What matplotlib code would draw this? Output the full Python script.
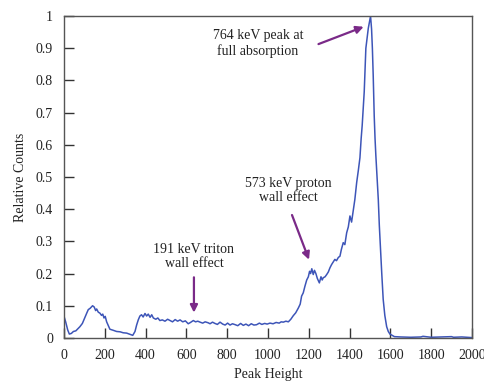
import matplotlib.pyplot as plt

plt.rcParams['font.family'] = ['Liberation Serif', 'DejaVu Serif']

# spectrum (peak height, relative counts)
peak_height = [0, 8, 18, 26, 36, 46, 58, 70, 78, 90,
               103, 112, 119, 128, 140, 148, 155, 160, 168, 176,
               184, 190, 196, 202, 209, 216, 225, 240, 258, 275,
               290, 307, 320, 337, 348, 356, 364, 372, 380, 388,
               397, 405, 413, 422, 430, 438, 450, 460, 470, 482,
               495, 508, 520, 532, 545, 557, 569, 582, 595, 609,
               620, 634, 645, 656, 667, 680, 692, 707, 716, 728,
               740, 752, 765, 778, 790, 802, 814, 826, 840, 852,
               866, 879, 892, 905, 918, 931, 944, 958, 970, 984,
               996, 1010, 1025, 1040, 1055, 1065, 1075, 1088, 1100, 1112,
               1124, 1136, 1149, 1158, 1165, 1173, 1181, 1190, 1198, 1204,
               1209, 1215, 1222, 1228, 1235, 1242, 1252, 1260, 1266, 1271,
               1280, 1288, 1296, 1304, 1312, 1320, 1328, 1336, 1345, 1353,
               1360, 1369, 1377, 1386, 1394, 1402, 1410, 1418, 1426, 1435,
               1443, 1451, 1457, 1462, 1467, 1472, 1476, 1480, 1486, 1492,
               1497, 1503, 1508, 1512, 1516, 1521, 1525, 1529, 1535, 1541,
               1546, 1552, 1558, 1565, 1573, 1582, 1590, 1598, 1606, 1620,
               1650, 1700, 1750, 1760, 1800, 1850, 1900, 1910, 1950, 2000]
rel_counts = [0.067, 0.05, 0.025, 0.012, 0.014, 0.02, 0.022, 0.03, 0.035, 0.045,
              0.065, 0.078, 0.088, 0.092, 0.1, 0.096, 0.085, 0.09, 0.08, 0.077,
              0.07, 0.074, 0.062, 0.067, 0.05, 0.04, 0.027, 0.024, 0.02, 0.019,
              0.016, 0.015, 0.012, 0.008, 0.02, 0.04, 0.056, 0.068, 0.072, 0.065,
              0.076, 0.068, 0.074, 0.064, 0.072, 0.062, 0.058, 0.062, 0.054, 0.056,
              0.052, 0.058, 0.054, 0.05, 0.057, 0.052, 0.056, 0.05, 0.053, 0.044,
              0.048, 0.054, 0.05, 0.052, 0.049, 0.046, 0.05, 0.047, 0.044, 0.049,
              0.045, 0.042, 0.049, 0.043, 0.04, 0.046, 0.04, 0.044, 0.041, 0.038,
              0.045, 0.039, 0.043, 0.038, 0.044, 0.04, 0.041, 0.046, 0.042, 0.045,
              0.043, 0.046, 0.044, 0.048, 0.046, 0.05, 0.049, 0.052, 0.05, 0.058,
              0.069, 0.078, 0.093, 0.105, 0.13, 0.14, 0.16, 0.18, 0.19, 0.207,
              0.2, 0.215, 0.197, 0.21, 0.2, 0.185, 0.171, 0.19, 0.18, 0.187,
              0.19, 0.197, 0.205, 0.218, 0.228, 0.236, 0.244, 0.24, 0.25, 0.254,
              0.275, 0.296, 0.29, 0.327, 0.345, 0.379, 0.36, 0.395, 0.43, 0.483,
              0.52, 0.56, 0.62, 0.66, 0.71, 0.765, 0.83, 0.9, 0.93, 0.9625,
              0.98, 1.0, 0.96, 0.9, 0.817, 0.69, 0.62, 0.567, 0.5, 0.43,
              0.35, 0.275, 0.2, 0.12, 0.07, 0.035, 0.02, 0.012, 0.009, 0.004,
              0.003, 0.002, 0.003, 0.005, 0.002, 0.003, 0.004, 0.002, 0.003, 0.001]

# annotations: text, text position, arrow start, arrow tip
notes = [
    ('764 keV peak at\nfull absorption', (951, 0.915), (1235, 0.91), (1482, 0.97)),
    ('573 keV proton\nwall effect', (1098, 0.458), (1113, 0.39), (1206, 0.235)),
    ('191 keV triton\nwall effect', (637, 0.253), (637, 0.197), (637, 0.07)),
]

fig = plt.figure(figsize=(4.85, 3.84), dpi=100)
ax = fig.add_axes([0.132, 0.12, 0.841, 0.838])

ax.plot(peak_height, rel_counts, color='#3d55b8', lw=1.1)

for text, tpos, astart, atip in notes:
    ax.text(tpos[0], tpos[1], text, ha='center', va='center', fontsize=10,
            color='#222222', linespacing=1.15)
    ax.annotate('', xy=atip, xytext=astart,
                arrowprops=dict(arrowstyle='-|>', color='#7a2a88', lw=1.6,
                                mutation_scale=11))

ax.set_xlim(0, 2000)
ax.set_ylim(0, 1)
ax.set_xticks(range(0, 2001, 200))
ax.set_yticks([0, 0.1, 0.2, 0.3, 0.4, 0.5, 0.6, 0.7, 0.8, 0.9, 1])
ax.set_yticklabels(['0', '0.1', '0.2', '0.3', '0.4', '0.5', '0.6', '0.7', '0.8', '0.9', '1'])
ax.tick_params(direction='in', length=7, width=1, color='#333333',
               labelsize=10, labelcolor='#222222', top=False, right=False)
ax.tick_params(axis='y', pad=8)
ax.tick_params(axis='x', pad=8)
for s in ax.spines.values():
    s.set_color('#555555')
    s.set_linewidth(1)

ax.set_xlabel('Peak Height', fontsize=10, color='#222222')
ax.set_ylabel('Relative Counts', fontsize=10, color='#222222', labelpad=6)

fig.savefig('out.png', dpi=100)
